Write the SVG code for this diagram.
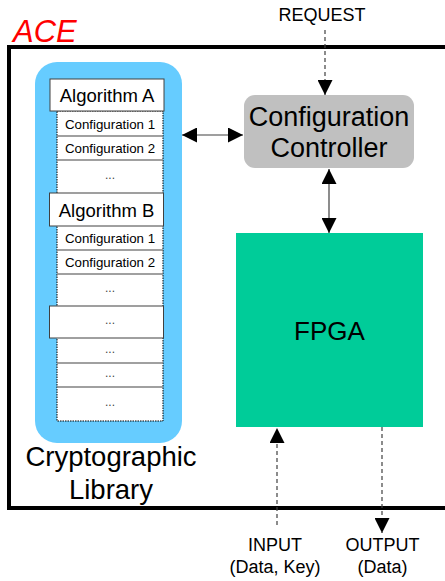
<svg xmlns="http://www.w3.org/2000/svg" width="445" height="581" viewBox="0 0 445 581">
<style>
text{font-family:"Liberation Sans",Arial,sans-serif;fill:#000}
.cfg{font-size:13.3px;text-anchor:middle}
.alg{font-size:18.5px;text-anchor:middle}
.dots{font-size:12px;text-anchor:middle;fill:#444}
.lbl{font-size:18px;text-anchor:middle}
.sep{stroke:#808080;stroke-width:1.5}
.algbox{fill:#fff;stroke:#404040;stroke-width:1}
.dash{stroke:#404040;stroke-width:1.2;stroke-dasharray:4 3;fill:none}
.solid{stroke:#404040;stroke-width:1.2;fill:none}
</style>
<defs>
<marker id="ah" viewBox="0 0 10 10" refX="10" refY="5" markerWidth="15" markerHeight="15" markerUnits="userSpaceOnUse" orient="auto-start-reverse">
<path d="M0,0 L10,5 L0,10 Z" fill="#000"/>
</marker>
</defs>
<rect width="445" height="581" fill="#fff"/>
<g id="ace">
<rect x="9" y="47" width="445" height="461" fill="none" stroke="#000" stroke-width="4"/>
<text x="13" y="42" font-size="31" font-style="italic" style="fill:#ff0000">ACE</text>
</g>
<g id="library">
<rect x="35" y="62" width="147" height="381" rx="22" ry="22" fill="#66ccff"/>
<rect x="57" y="111" width="106" height="310" fill="#fff" stroke="#000" stroke-width="1" stroke-dasharray="1.5 1"/>
<line class="sep" x1="57" y1="136" x2="163" y2="136"/>
<line class="sep" x1="57" y1="160" x2="163" y2="160"/>
<line class="sep" x1="57" y1="250" x2="163" y2="250"/>
<line class="sep" x1="57" y1="274" x2="163" y2="274"/>
<line class="sep" x1="57" y1="363" x2="163" y2="363"/>
<line class="sep" x1="57" y1="387" x2="163" y2="387"/>
<rect class="algbox" x="50" y="79" width="114" height="32"/>
<text class="alg" x="107" y="101.5">Algorithm A</text>
<text class="cfg" x="110" y="128.5">Configuration 1</text>
<text class="cfg" x="110" y="153">Configuration 2</text>
<text class="dots" x="110" y="179">...</text>
<rect class="algbox" x="49.5" y="193" width="114" height="33"/>
<text class="alg" x="106.5" y="216.5">Algorithm B</text>
<text class="cfg" x="110" y="243">Configuration 1</text>
<text class="cfg" x="110" y="267">Configuration 2</text>
<text class="dots" x="110" y="292">...</text>
<rect class="algbox" x="49.5" y="306" width="114" height="32"/>
<text class="dots" x="110" y="324">...</text>
<text class="dots" x="110" y="353">...</text>
<text class="dots" x="110" y="377">...</text>
<text class="dots" x="110" y="406">...</text>
<text x="111" y="466" font-size="27.5" text-anchor="middle">Cryptographic</text>
<text x="111" y="499" font-size="27.5" text-anchor="middle">Library</text>
</g>
<g id="controller">
<rect x="244" y="95" width="170" height="73" rx="11" ry="11" fill="#c0c0c0"/>
<text x="329" y="126" font-size="27" text-anchor="middle">Configuration</text>
<text x="329" y="157" font-size="27" text-anchor="middle">Controller</text>
</g>
<g id="fpga">
<rect x="236" y="233" width="187" height="194" fill="#00cc99"/>
<text x="329.5" y="340" font-size="26" text-anchor="middle">FPGA</text>
</g>
<g id="labels">
<text class="lbl" x="322" y="21">REQUEST</text>
<text class="lbl" x="275" y="551">INPUT</text>
<text class="lbl" x="275" y="573">(Data, Key)</text>
<text class="lbl" x="382.5" y="551">OUTPUT</text>
<text class="lbl" x="382.5" y="573">(Data)</text>
</g>
<g id="connectors">
<line class="dash" x1="325" y1="30" x2="325" y2="95" marker-end="url(#ah)"/>
<line class="solid" x1="182" y1="135" x2="243" y2="135" marker-start="url(#ah)" marker-end="url(#ah)"/>
<line class="solid" x1="329" y1="169" x2="329" y2="233" marker-start="url(#ah)" marker-end="url(#ah)"/>
<line class="dash" x1="277" y1="525" x2="277" y2="428" marker-end="url(#ah)"/>
<line class="dash" x1="382" y1="427" x2="382" y2="533" marker-end="url(#ah)"/>
</g>
</svg>
